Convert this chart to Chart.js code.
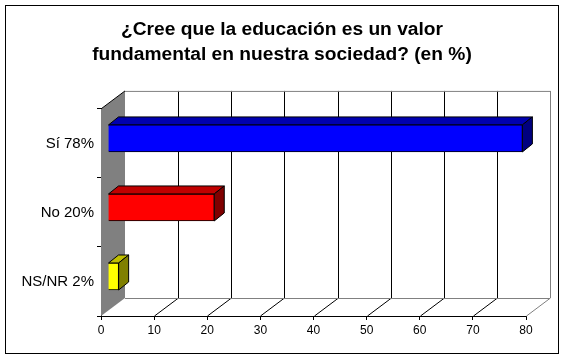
<!DOCTYPE html>
<html>
<head>
<meta charset="utf-8">
<style>
  html, body { margin: 0; padding: 0; background: #fff; }
  canvas { display: block; }
</style>
<script src="https://cdn.jsdelivr.net/npm/chart.js@4"></script>
</head>
<body>
<canvas id="chart" width="566" height="360"></canvas>
<script>
const titleLines = ['¿Cree que la educación es un valor', 'fundamental en nuestra sociedad? (en %)'];
const categories = ['Sí 78%', 'No 20%', 'NS/NR 2%'];
const values = [78, 20, 2];
const barColors = ['#0000ff', '#ff0000', '#ffff00'];
const topColors = ['#0000b0', '#c00000', '#c0c000'];
const sideColors = ['#000080', '#800000', '#808000'];
const xTicks = [0, 10, 20, 30, 40, 50, 60, 70, 80];

// fake 3D: how far the back wall and the bars sit behind the axes
const wallDx = 24, wallDy = -18;
const barDx = 7, barDy = -5;
const faceDx = 10, faceDy = -8;

function poly(ctx, pts, fill, stroke) {
  ctx.beginPath();
  pts.forEach((p, i) => i ? ctx.lineTo(p[0], p[1]) : ctx.moveTo(p[0], p[1]));
  ctx.closePath();
  if (fill) { ctx.fillStyle = fill; ctx.fill(); }
  if (stroke) { ctx.strokeStyle = stroke; ctx.lineWidth = 1; ctx.stroke(); }
}

function line(ctx, x1, y1, x2, y2, color) {
  ctx.beginPath();
  ctx.moveTo(x1, y1);
  ctx.lineTo(x2, y2);
  ctx.strokeStyle = color;
  ctx.lineWidth = 1;
  ctx.stroke();
}

const frame3d = {
  id: 'frame3d',
  beforeDraw(chart) {
    const ctx = chart.ctx;
    ctx.save();
    ctx.strokeStyle = '#000';
    ctx.lineWidth = 1;
    ctx.strokeRect(5.5, 5.5, 553, 348);
    ctx.restore();
  },
  beforeDatasetsDraw(chart) {
    const ctx = chart.ctx, a = chart.chartArea, sx = chart.scales.x;
    const backTop = a.top + wallDy, backBottom = a.bottom + wallDy;
    const x0 = sx.getPixelForValue(0);

    // side wall
    poly(ctx, [[x0, a.top], [x0 + wallDx, backTop], [x0 + wallDx, backBottom], [x0, a.bottom]], '#808080');
    line(ctx, x0, a.top, x0 + wallDx, backTop, '#000');

    // floor lines and back wall grid
    xTicks.forEach(v => {
      if (v === 0) return;
      const x = Math.round(sx.getPixelForValue(v)) + 0.5;
      const c = v === 80 ? '#808080' : '#000';
      line(ctx, x, a.bottom, x + wallDx, backBottom, c);
      line(ctx, x + wallDx, backBottom, x + wallDx, backTop, c);
    });
    const xEnd = sx.getPixelForValue(80) + wallDx;
    line(ctx, x0 + wallDx, backTop + 0.5, xEnd, backTop + 0.5, '#808080');
    line(ctx, x0 + wallDx, backBottom + 0.5, xEnd, backBottom + 0.5, '#808080');

    // bars sit in the middle of the depth
    ctx.save();
    ctx.translate(barDx, barDy);
    chart.getDatasetMeta(0).data.forEach((bar, i) => {
      const t = bar.y - bar.height / 2, b = bar.y + bar.height / 2;
      const l = bar.base, r = bar.x;
      poly(ctx, [[l, t], [l + faceDx, t + faceDy], [r + faceDx, t + faceDy], [r, t]], topColors[i], '#000');
      poly(ctx, [[r, t], [r + faceDx, t + faceDy], [r + faceDx, b + faceDy], [r, b]], sideColors[i], '#000');
    });
  },
  afterDatasetsDraw(chart) {
    chart.ctx.restore();
  }
};

new Chart(document.getElementById('chart'), {
  type: 'bar',
  data: {
    labels: categories,
    datasets: [{
      data: values,
      backgroundColor: barColors,
      borderColor: '#000',
      borderWidth: 1,
      barThickness: 27
    }]
  },
  options: {
    indexAxis: 'y',
    responsive: false,
    animation: false,
    devicePixelRatio: 1,
    layout: { padding: { right: 2 } },
    scales: {
      x: {
        min: 0,
        max: 80,
        afterBuildTicks(axis) { axis.ticks = xTicks.map(v => ({ value: v })); },
        afterFit(axis) { axis.height = 44; },
        grid: { drawOnChartArea: false, color: '#000', tickLength: 4 },
        border: { color: '#000' },
        ticks: { color: '#000', font: { family: 'Liberation Sans', size: 12 }, padding: 3, maxRotation: 0, autoSkip: false }
      },
      y: {
        afterFit(axis) { axis.width = 101; },
        grid: { drawOnChartArea: false, color: '#000', tickLength: 4 },
        border: { color: '#000' },
        ticks: { color: '#000', font: { family: 'Liberation Sans', size: 15 }, padding: 3 }
      },
      // empty axis, only keeps the plot clear of the right edge
      spacer: {
        type: 'linear',
        position: 'right',
        afterFit(axis) { axis.width = 38; },
        grid: { display: false },
        border: { display: false },
        ticks: { display: false }
      }
    },
    plugins: {
      legend: { display: false },
      tooltip: { enabled: false },
      title: {
        display: true,
        text: titleLines,
        color: '#000',
        font: { family: 'Liberation Sans', size: 19.2, weight: 'bold', lineHeight: 1.3 },
        padding: { top: 17, bottom: 42 }
      }
    }
  },
  plugins: [frame3d]
});
</script>
</body>
</html>
